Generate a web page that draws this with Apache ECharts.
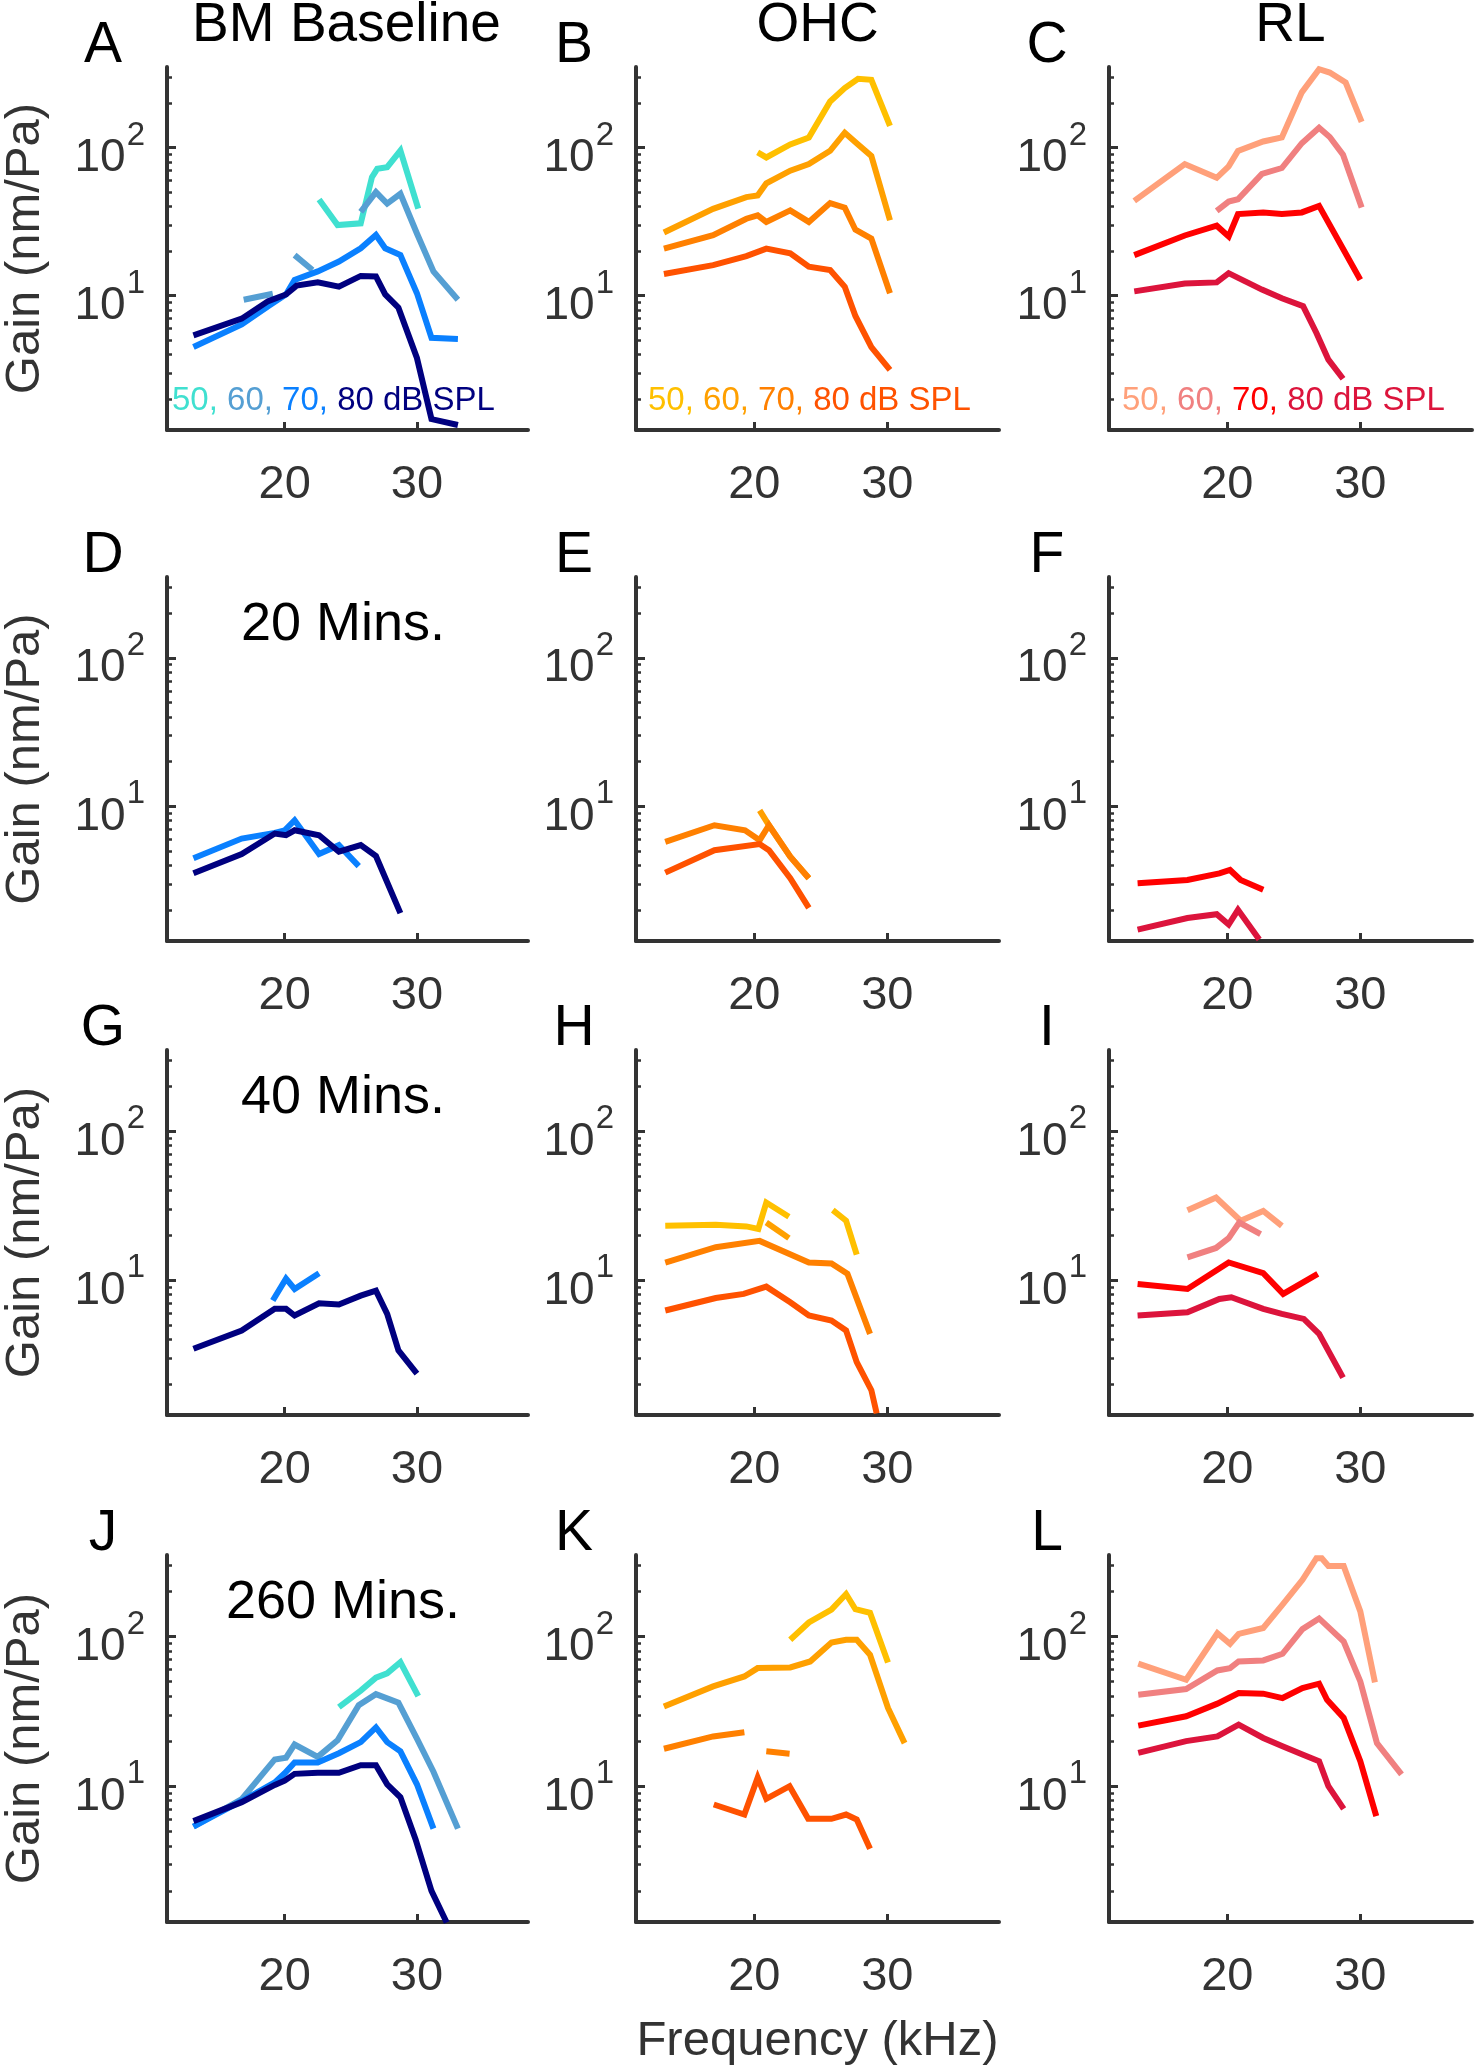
<!DOCTYPE html>
<html><head><meta charset="utf-8">
<script src="https://cdn.jsdelivr.net/npm/echarts@6/dist/echarts.min.js"></script>
<style>html,body{margin:0;padding:0;background:#fff}#chart{width:1475px;height:2070px}</style>
</head><body><div id="chart"></div>
<script>
// ---- Data: [frequency kHz, gain nm/Pa]; null = gap in the curve ----
const A50 = [[22.6,44.6],[24.0,30.0],[25.75,30.8],[26.6,63.2],[27.0,71.9],[27.75,73.8],[28.75,95.4],[30.1,38.7]];
const A60 = [[16.9,9.4],[19.1,10.3],null,[20.75,18.8],[22.1,14.9],null,[25.75,36.8],[26.9,50.1],[27.75,41.9],[28.75,48.8],[30.0,26.3],[31.25,14.6],[33.1,9.4]];
const A70 = [[13.1,4.5],[16.75,6.4],[18.75,8.5],[20.1,10.2],[20.75,12.8],[22.5,14.6],[24.1,17.0],[25.75,20.9],[26.9,25.7],[27.6,20.9],[28.75,18.8],[30.0,10.4],[31.1,5.2],[33.1,5.1]];
const A80 = [[13.1,5.4],[16.75,7.0],[18.75,9.2],[20.1,10.2],[20.9,11.7],[22.5,12.3],[24.1,11.5],[25.75,13.6],[26.9,13.5],[27.6,10.2],[28.6,8.3],[30.0,3.8],[31.1,1.47],[33.1,1.34]];

const B50 = [[20.25,92.7],[20.9,85.8],[22.7,105],[24.1,117],[25.7,205],[26.8,252],[27.8,291],[28.8,287],[30.2,140]];
const B60 = [[13.2,26.7],[16.9,38.6],[19.4,46.3],[20.25,47.5],[20.9,57.4],[22.7,69.8],[24.1,77.3],[25.7,95.1],[26.8,126],[27.8,105],[28.8,87.9],[30.2,32.3]];
const B70 = [[13.2,20.8],[16.9,25.6],[19.4,33.1],[20.25,34.9],[20.9,31.5],[22.7,37.7],[24.1,31.5],[25.7,42.2],[26.8,39.3],[27.6,27.9],[28.8,24.3],[30.2,10.4]];
const B80 = [[13.2,14.0],[16.9,16.1],[19.4,18.5],[20.9,20.8],[22.7,19.3],[24.1,15.7],[25.7,14.9],[26.8,11.5],[27.6,7.3],[28.8,4.5],[30.2,3.16]];

const C50 = [[13.0,43.7],[16.8,77.4],[19.2,62.5],[20.1,74.7],[20.8,95.0],[22.7,110],[24.1,117],[25.6,236],[26.9,338],[27.7,321],[28.9,275],[30.1,149]];
const C60 = [[19.2,37.4],[20.1,43.2],[20.8,44.8],[22.6,66.4],[24.1,72.8],[25.6,107],[26.9,136],[27.7,118],[28.7,89.4],[30.1,39.4]];
const C70 = [[13.0,18.8],[16.8,25.5],[19.2,29.7],[20.1,25.1],[20.8,35.6],[22.7,36.5],[24.1,35.6],[25.6,36.5],[26.9,40.4],[30.0,12.8]];
const C80 = [[13.0,10.7],[16.8,12.1],[19.2,12.3],[20.1,14.2],[22.6,11.0],[24.1,9.6],[25.7,8.5],[26.7,5.6],[27.6,3.7],[28.7,2.75]];

const D70 = [[13.1,4.47],[16.75,6.07],[19.25,6.63],[20.0,6.9],[20.75,8.06],[22.6,4.77],[24.1,5.48],[25.6,3.96]];
const D80 = [[13.1,3.54],[16.75,4.77],[19.25,6.56],[20.1,6.39],[20.75,6.9],[22.6,6.39],[24.1,4.95],[25.75,5.48],[26.9,4.63],[28.75,1.91]];

const E60 = [[20.4,9.4],[21.1,7.46],[22.7,4.58],[24.1,3.28]];
const E70 = [[13.3,5.77],[17.0,7.46],[19.3,6.9],[20.4,5.92],[21.1,7.46],[22.7,4.58],[24.1,3.28]];
const E80 = [[13.3,3.58],[17.0,5.07],[20.4,5.57],[21.1,5.07],[22.7,3.28],[24.1,2.07]];

const F70 = [[13.25,3.03],[17.0,3.19],[19.4,3.54],[20.2,3.73],[21.0,3.19],[22.7,2.74]];
const F80 = [[13.25,1.48],[17.0,1.77],[19.2,1.88],[20.1,1.6],[20.8,2.01],[22.4,1.27]];

const G70 = [[19.1,7.28],[20.1,10.2],[20.75,8.7],[22.6,11.1]];
const G80 = [[13.1,3.45],[16.75,4.58],[19.25,6.4],[20.1,6.4],[20.75,5.77],[22.6,6.98],[24.1,6.84],[25.75,7.85],[26.9,8.48],[27.75,5.92],[28.6,3.37],[30.0,2.35]];

const H50 = [[13.3,23.1],[17.1,23.5],[19.4,22.9],[20.3,22.0],[20.9,33.1],[22.6,26.6],null,[25.9,29.4],[26.9,25.0],[27.7,14.8]];
const H60 = [[20.9,24.3],[22.6,19.1]];
const H70 = [[13.3,13.1],[17.1,16.6],[20.4,18.3],[24.1,13.1],[25.8,12.9],[27.0,11.0],[28.7,4.35]];
const H80 = [[13.3,6.24],[17.1,7.57],[19.2,8.06],[20.9,9.02],[22.7,7.08],[24.1,5.77],[25.8,5.34],[26.9,4.58],[27.7,2.81],[28.8,1.82],[29.2,1.27]];

const I50 = [[17.0,29.4],[19.15,35.8],[21.0,25.0],[22.7,29.1],[24.1,23.1]];
const I60 = [[17.0,14.2],[19.15,16.4],[20.1,19.1],[20.9,24.3],[22.5,20.3]];
const I70 = [[13.25,9.4],[17.0,8.71],[20.1,13.1],[22.7,11.1],[24.2,8.06],[26.8,11.0]];
const I80 = [[13.25,5.77],[17.0,6.07],[19.4,7.46],[20.3,7.66],[22.7,6.4],[24.1,5.92],[25.75,5.48],[26.9,4.35],[28.7,2.21]];

const J50 = [[24.1,33.7],[25.75,43.5],[26.9,53.1],[27.75,56.8],[28.75,67.3],[30.1,40.0]];
const J60 = [[13.1,5.37],[16.75,8.2],[19.25,15.1],[20.1,15.5],[20.75,19.0],[22.5,15.7],[24.0,20.3],[25.6,34.8],[26.9,41.2],[28.6,36.1],[30.0,20.8],[31.25,12.5],[33.1,5.21]];
const J70 = [[13.1,5.37],[16.75,7.97],[19.25,10.6],[20.0,12.2],[20.75,14.4],[22.5,14.4],[24.1,16.6],[25.75,19.7],[26.9,24.7],[27.75,19.7],[28.75,17.1],[30.0,10.3],[31.25,5.21]];
const J80 = [[13.1,5.85],[16.75,7.83],[19.25,10.2],[20.0,10.9],[20.75,12.1],[22.5,12.3],[24.1,12.3],[25.75,13.8],[26.9,13.8],[27.75,10.3],[28.75,8.44],[29.9,4.41],[31.1,2.0],[32.25,1.23]];

const K50 = [[22.7,95.0],[24.1,124],[25.8,151],[26.9,192],[27.6,152],[28.7,144],[30.05,67.1]];
const K60 = [[13.2,34.1],[16.9,46.4],[19.25,54.1],[20.25,61.5],[22.7,62.1],[24.2,68.1],[25.8,91.2],[26.9,95.0],[27.7,95.0],[28.7,75.4],[30.05,33.3],[31.3,19.4]];
const K70 = [[13.2,17.8],[16.9,21.5],[19.25,22.9],null,[20.9,17.1],[22.65,16.5]];
const K80 = [[16.95,7.55],[19.25,6.47],[20.25,11.4],[20.9,8.24],[22.65,10.0],[24.05,6.06],[25.8,6.06],[26.9,6.47],[27.7,5.99],[28.7,3.82]];

const L50 = [[13.3,65.8],[16.9,51.4],[19.25,105],[20.2,89.3],[20.85,104],[22.7,114],[24.15,163],[25.65,239],[26.7,333],[27.1,333],[27.6,296],[28.75,296],[30.0,147],[31.1,49.4]];
const L60 = [[13.3,40.8],[16.9,44.6],[19.25,59.3],[20.2,61.5],[20.85,68.1],[22.7,69.2],[24.15,76.6],[25.65,112],[26.9,132],[28.75,92.6],[30.0,50.1],[31.25,19.4],[33.1,12.0]];
const L70 = [[13.3,25.4],[16.9,29.3],[19.25,35.6],[20.85,41.9],[22.7,41.5],[24.15,38.8],[25.65,45.3],[26.9,48.4],[27.5,37.8],[28.75,28.6],[30.0,14.7],[31.2,6.31]];
const L80 = [[13.3,16.7],[16.9,20.0],[19.25,21.5],[20.85,25.8],[22.7,21.0],[24.15,18.5],[25.65,16.3],[26.9,14.7],[27.6,10.0],[28.75,7.06]];

// ---- Tick values / labels ----
const X_TICKS = [20, 30];
const Y_MAJOR = [10, 100];
const Y_MINOR = [2,3,4,5,6,7,8,9,20,30,40,50,60,70,80,90,200,300];
const COLUMN_TITLES = ['BM Baseline', 'OHC', 'RL'];
const ROW_LABELS = [null, '20 Mins.', '40 Mins.', '260 Mins.'];
const LETTERS = [['A','B','C'],['D','E','F'],['G','H','I'],['J','K','L']];
const LEGEND_LEVELS = ['50,', '60,', '70,', '80 dB SPL'];

// ---- Colours per column (50,60,70,80 dB SPL) ----
const BLUES = ['#40E0D0', '#559FD3', '#0A80FF', '#00007F'];
const ORANGES = ['#FFC000', '#FFA000', '#FF8000', '#FF5200'];
const REDS = ['#FFA07A', '#F08080', '#FF0000', '#DC143C'];
const COLORS = [BLUES, ORANGES, REDS];

// panels: [row][col] -> series by level (50,60,70,80)
const PANELS = [
  [[A50, A60, A70, A80], [B50, B60, B70, B80], [C50, C60, C70, C80]],
  [[null, null, D70, D80], [null, E60, E70, E80], [null, null, F70, F80]],
  [[null, null, G70, G80], [H50, H60, H70, H80], [I50, I60, I70, I80]],
  [[J50, J60, J70, J80], [K50, K60, K70, K80], [L50, L60, L70, L80]]
];

// ---- Layout ----
const FONT = '"Liberation Sans", Arial, Helvetica, sans-serif';
const COL_X = [165, 636, 1109], AX_W = 363;
const ROW_Y = [67, 577, 1050, 1555], AX_H = [363, 364, 365, 367];
const X_MIN = 11.1, X_MAX = 38.4, Y_MIN = 1.24, Y_MAX = 350;
const AX_COLOR = '#333333';

const grids = [], xAxes = [], yAxes = [], series = [];
function toData(arr) { return arr.map(p => p ? p : ['-', '-']); }

let gi = 0;
for (let r = 0; r < 4; r++) {
  for (let c = 0; c < 3; c++) {
    grids.push({ left: COL_X[c], top: ROW_Y[r], width: AX_W, height: AX_H[r], containLabel: false });
    const xa = {
      type: 'value', gridIndex: gi, min: X_MIN, max: X_MAX,
      axisLine: { onZero: false, lineStyle: { color: AX_COLOR, width: 4 } },
      axisTick: { inside: true, length: 8, customValues: X_TICKS, lineStyle: { color: AX_COLOR, width: 3 } },
      axisLabel: { customValues: X_TICKS, fontSize: 47, lineHeight: 47, margin: 32, color: AX_COLOR, fontFamily: FONT },
      splitLine: { show: false }
    };
    if (r === 3 && c === 1) {
      Object.assign(xa, { name: 'Frequency (kHz)', nameLocation: 'middle', nameGap: 95,
        nameTextStyle: { fontSize: 49, color: AX_COLOR, fontFamily: FONT } });
    }
    xAxes.push(xa);
    // minor ticks + axis line
    yAxes.push({
      type: 'log', logBase: 10, gridIndex: gi, position: 'left', min: Y_MIN, max: Y_MAX,
      axisLine: { show: true, lineStyle: { color: AX_COLOR, width: 4 } },
      axisTick: { inside: true, length: 5, customValues: Y_MINOR, lineStyle: { color: AX_COLOR, width: 2.5 } },
      axisLabel: { show: false },
      splitLine: { show: false }, minorTick: { show: false }
    });
    // major ticks + labels
    const ya = {
      type: 'log', logBase: 10, gridIndex: gi, position: 'left', min: Y_MIN, max: Y_MAX,
      axisLine: { show: false },
      axisTick: { inside: true, length: 9, customValues: Y_MAJOR, lineStyle: { color: AX_COLOR, width: 3 } },
      axisLabel: {
        customValues: Y_MAJOR, margin: 22, color: AX_COLOR,
        formatter: v => '{b|10}{s|' + Math.round(Math.log10(v)) + '}',
        rich: {
          b: { fontSize: 46, lineHeight: 46, fontFamily: FONT, color: AX_COLOR, padding: [22, 0, 0, 0] },
          s: { fontSize: 33, lineHeight: 33, fontFamily: FONT, color: AX_COLOR, padding: [0, 0, 24, 1] }
        }
      },
      splitLine: { show: false }
    };
    if (c === 0) {
      Object.assign(ya, { name: 'Gain (nm/Pa)', nameLocation: 'middle', nameRotate: 90, nameGap: 117,
        nameTextStyle: { fontSize: 49, color: AX_COLOR, fontFamily: FONT } });
    }
    yAxes.push(ya);
    PANELS[r][c].forEach((arr, k) => {
      if (!arr) return;
      series.push({
        type: 'line', xAxisIndex: gi, yAxisIndex: 2 * gi, data: toData(arr),
        showSymbol: false, symbol: 'none', connectNulls: false, silent: true,
        lineStyle: { color: COLORS[c][k], width: 6, cap: 'butt', join: 'miter' },
        itemStyle: { color: COLORS[c][k] }, z: 2 + k
      });
    });
    gi++;
  }
}

// ---- Text annotations ----
const graphic = [];
COLUMN_TITLES.forEach((t, c) => graphic.push({ type: 'text', x: COL_X[c] + AX_W / 2, y: 26,
  style: { text: t, font: `55px ${FONT}`, fill: '#000', align: 'center', verticalAlign: 'middle' } }));
for (let r = 0; r < 4; r++) for (let c = 0; c < 3; c++) {
  graphic.push({ type: 'text', x: COL_X[c] - 62, y: ROW_Y[r] - 21,
    style: { text: LETTERS[r][c], font: `57px ${FONT}`, fill: '#000', align: 'center', verticalAlign: 'middle' } });
}
ROW_LABELS.forEach((t, r) => { if (!t) return; graphic.push({ type: 'text', x: 343, y: ROW_Y[r] + 48,
  style: { text: t, font: `54px ${FONT}`, fill: '#000', align: 'center', verticalAlign: 'middle' } }); });
const LEG_X = [172, 648, 1122];
COLORS.forEach((cols, c) => {
  const rich = {};
  ['a','b','c','d'].forEach((k, i) => rich[k] = { fill: cols[i], fontSize: 33, fontFamily: FONT });
  graphic.push({ type: 'text', x: LEG_X[c], y: ROW_Y[0] + AX_H[0] - 29,
    style: { text: LEGEND_LEVELS.map((t, i) => '{' + 'abcd'[i] + '|' + t + '}').join(' '),
      font: `33px ${FONT}`, fill: cols[3], align: 'left', verticalAlign: 'middle', rich } });
});

const chart = echarts.init(document.getElementById('chart'), null, { renderer: 'canvas' });
chart.setOption({
  animation: false, backgroundColor: '#fff',
  grid: grids, xAxis: xAxes, yAxis: yAxes, series, graphic
});
</script></body></html>
